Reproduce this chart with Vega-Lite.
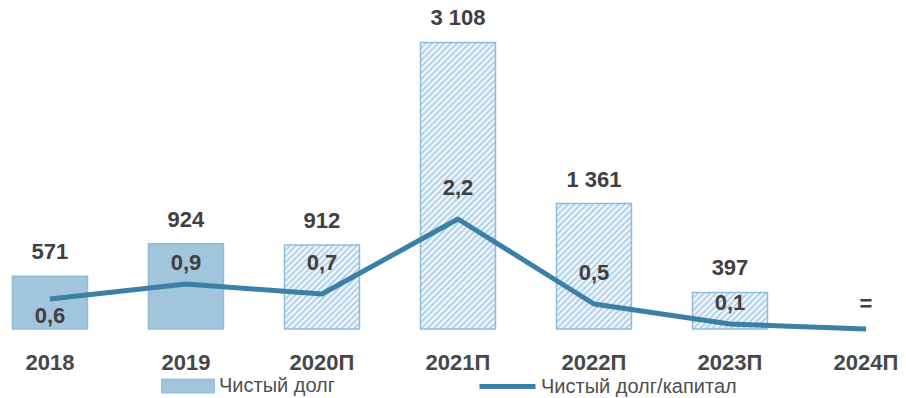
{
  "$schema": "https://vega.github.io/schema/vega-lite/v6.json",
  "width": 906,
  "height": 309,
  "autosize": {"type": "none"},
  "padding": {"left": 0, "right": 0, "top": 20, "bottom": 69},
  "background": "white",
  "config": {
    "view": {"stroke": null},
    "locale": {"number": {"decimal": ",", "thousands": " ", "grouping": [3], "currency": ["", ""]}},
    "font": "Liberation Sans",
    "legend": {"padding": 0, "labelFont": "Liberation Sans", "labelFontSize": 20, "labelColor": "#505050", "labelLimit": 400}
  },
  "data": {
    "values": [
      {"year": "2018", "debt": 571, "ratio": 0.6},
      {"year": "2019", "debt": 924, "ratio": 0.9},
      {"year": "2020П", "debt": 912, "ratio": 0.7},
      {"year": "2021П", "debt": 3108, "ratio": 2.2},
      {"year": "2022П", "debt": 1361, "ratio": 0.5},
      {"year": "2023П", "debt": 397, "ratio": 0.1},
      {"year": "2024П", "debt": null, "ratio": 0.0}
    ]
  },
  "encoding": {
    "x": {
      "field": "year", "type": "ordinal", "sort": null,
      "scale": {"paddingInner": 0.4485, "paddingOuter": 0.055, "align": 0.833},
      "axis": {"title": null, "labelAngle": 0, "domain": false, "ticks": false, "labelPadding": 23,
               "labelFont": "Liberation Sans", "labelFontWeight": "bold", "labelFontSize": 22, "labelColor": "#474747"}
    },
    "y": {"field": "debt", "type": "quantitative", "scale": {"domain": [0, 3351]}, "axis": null}
  },
  "layer": [
    {
      "layer": [
        {
          "transform": [{"filter": "indexof(datum.year, 'П') < 0"}],
          "mark": {"type": "bar", "stroke": "#8fbcdb", "strokeWidth": 1.5},
          "encoding": {
            "fill": {
              "datum": "Чистый долг", "type": "nominal",
              "scale": {"range": ["#a2c5de"]},
              "legend": {"orient": "none", "legendX": 161, "legendY": 339, "title": null,
                         "symbolType": "M-1,-0.264H1V0.264H-1Z", "symbolSize": 2809,
                         "symbolStrokeColor": "#8fbcdb", "symbolStrokeWidth": 1, "labelOffset": 4}
            }
          }
        },
        {
          "transform": [{"filter": "datum.year === '2020П'"}],
          "mark": {"type": "bar", "stroke": "#8fbcdb", "strokeWidth": 1.5,
            "fill": {"gradient": "linear", "x1": 0, "y1": 0, "x2": 0.9397, "y2": 1.0538, "stops": [
              {"offset": 0, "color": "#a9cce6"}, {"offset": 0.0192, "color": "#ffffff"}, {"offset": 0.0385, "color": "#a9cce6"}, {"offset": 0.0577, "color": "#ffffff"},
              {"offset": 0.0769, "color": "#a9cce6"}, {"offset": 0.0962, "color": "#ffffff"}, {"offset": 0.1154, "color": "#a9cce6"}, {"offset": 0.1346, "color": "#ffffff"},
              {"offset": 0.1538, "color": "#a9cce6"}, {"offset": 0.1731, "color": "#ffffff"}, {"offset": 0.1923, "color": "#a9cce6"}, {"offset": 0.2115, "color": "#ffffff"},
              {"offset": 0.2308, "color": "#a9cce6"}, {"offset": 0.25, "color": "#ffffff"}, {"offset": 0.2692, "color": "#a9cce6"}, {"offset": 0.2885, "color": "#ffffff"},
              {"offset": 0.3077, "color": "#a9cce6"}, {"offset": 0.3269, "color": "#ffffff"}, {"offset": 0.3462, "color": "#a9cce6"}, {"offset": 0.3654, "color": "#ffffff"},
              {"offset": 0.3846, "color": "#a9cce6"}, {"offset": 0.4038, "color": "#ffffff"}, {"offset": 0.4231, "color": "#a9cce6"}, {"offset": 0.4423, "color": "#ffffff"},
              {"offset": 0.4615, "color": "#a9cce6"}, {"offset": 0.4808, "color": "#ffffff"}, {"offset": 0.5, "color": "#a9cce6"}, {"offset": 0.5192, "color": "#ffffff"},
              {"offset": 0.5385, "color": "#a9cce6"}, {"offset": 0.5577, "color": "#ffffff"}, {"offset": 0.5769, "color": "#a9cce6"}, {"offset": 0.5962, "color": "#ffffff"},
              {"offset": 0.6154, "color": "#a9cce6"}, {"offset": 0.6346, "color": "#ffffff"}, {"offset": 0.6538, "color": "#a9cce6"}, {"offset": 0.6731, "color": "#ffffff"},
              {"offset": 0.6923, "color": "#a9cce6"}, {"offset": 0.7115, "color": "#ffffff"}, {"offset": 0.7308, "color": "#a9cce6"}, {"offset": 0.75, "color": "#ffffff"},
              {"offset": 0.7692, "color": "#a9cce6"}, {"offset": 0.7885, "color": "#ffffff"}, {"offset": 0.8077, "color": "#a9cce6"}, {"offset": 0.8269, "color": "#ffffff"},
              {"offset": 0.8462, "color": "#a9cce6"}, {"offset": 0.8654, "color": "#ffffff"}, {"offset": 0.8846, "color": "#a9cce6"}, {"offset": 0.9038, "color": "#ffffff"},
              {"offset": 0.9231, "color": "#a9cce6"}, {"offset": 0.9423, "color": "#ffffff"}, {"offset": 0.9615, "color": "#a9cce6"}, {"offset": 0.9808, "color": "#ffffff"},
              {"offset": 1, "color": "#a9cce6"}
            ]}
          }
        },
        {
          "transform": [{"filter": "datum.year === '2021П'"}],
          "mark": {"type": "bar", "stroke": "#8fbcdb", "strokeWidth": 1.5,
            "fill": {"gradient": "linear", "x1": 0, "y1": 0, "x2": 0.3090, "y2": 1.1808, "stops": [
              {"offset": 0, "color": "#a9cce6"}, {"offset": 0.0086, "color": "#ffffff"}, {"offset": 0.0172, "color": "#a9cce6"}, {"offset": 0.0259, "color": "#ffffff"},
              {"offset": 0.0345, "color": "#a9cce6"}, {"offset": 0.0431, "color": "#ffffff"}, {"offset": 0.0517, "color": "#a9cce6"}, {"offset": 0.0603, "color": "#ffffff"},
              {"offset": 0.0690, "color": "#a9cce6"}, {"offset": 0.0776, "color": "#ffffff"}, {"offset": 0.0862, "color": "#a9cce6"}, {"offset": 0.0948, "color": "#ffffff"},
              {"offset": 0.1034, "color": "#a9cce6"}, {"offset": 0.1121, "color": "#ffffff"}, {"offset": 0.1207, "color": "#a9cce6"}, {"offset": 0.1293, "color": "#ffffff"},
              {"offset": 0.1379, "color": "#a9cce6"}, {"offset": 0.1466, "color": "#ffffff"}, {"offset": 0.1552, "color": "#a9cce6"}, {"offset": 0.1638, "color": "#ffffff"},
              {"offset": 0.1724, "color": "#a9cce6"}, {"offset": 0.1810, "color": "#ffffff"}, {"offset": 0.1897, "color": "#a9cce6"}, {"offset": 0.1983, "color": "#ffffff"},
              {"offset": 0.2069, "color": "#a9cce6"}, {"offset": 0.2155, "color": "#ffffff"}, {"offset": 0.2241, "color": "#a9cce6"}, {"offset": 0.2328, "color": "#ffffff"},
              {"offset": 0.2414, "color": "#a9cce6"}, {"offset": 0.25, "color": "#ffffff"}, {"offset": 0.2586, "color": "#a9cce6"}, {"offset": 0.2672, "color": "#ffffff"},
              {"offset": 0.2759, "color": "#a9cce6"}, {"offset": 0.2845, "color": "#ffffff"}, {"offset": 0.2931, "color": "#a9cce6"}, {"offset": 0.3017, "color": "#ffffff"},
              {"offset": 0.3103, "color": "#a9cce6"}, {"offset": 0.3190, "color": "#ffffff"}, {"offset": 0.3276, "color": "#a9cce6"}, {"offset": 0.3362, "color": "#ffffff"},
              {"offset": 0.3448, "color": "#a9cce6"}, {"offset": 0.3534, "color": "#ffffff"}, {"offset": 0.3621, "color": "#a9cce6"}, {"offset": 0.3707, "color": "#ffffff"},
              {"offset": 0.3793, "color": "#a9cce6"}, {"offset": 0.3879, "color": "#ffffff"}, {"offset": 0.3966, "color": "#a9cce6"}, {"offset": 0.4052, "color": "#ffffff"},
              {"offset": 0.4138, "color": "#a9cce6"}, {"offset": 0.4224, "color": "#ffffff"}, {"offset": 0.4310, "color": "#a9cce6"}, {"offset": 0.4397, "color": "#ffffff"},
              {"offset": 0.4483, "color": "#a9cce6"}, {"offset": 0.4569, "color": "#ffffff"}, {"offset": 0.4655, "color": "#a9cce6"}, {"offset": 0.4741, "color": "#ffffff"},
              {"offset": 0.4828, "color": "#a9cce6"}, {"offset": 0.4914, "color": "#ffffff"}, {"offset": 0.5, "color": "#a9cce6"}, {"offset": 0.5086, "color": "#ffffff"},
              {"offset": 0.5172, "color": "#a9cce6"}, {"offset": 0.5259, "color": "#ffffff"}, {"offset": 0.5345, "color": "#a9cce6"}, {"offset": 0.5431, "color": "#ffffff"},
              {"offset": 0.5517, "color": "#a9cce6"}, {"offset": 0.5603, "color": "#ffffff"}, {"offset": 0.5690, "color": "#a9cce6"}, {"offset": 0.5776, "color": "#ffffff"},
              {"offset": 0.5862, "color": "#a9cce6"}, {"offset": 0.5948, "color": "#ffffff"}, {"offset": 0.6034, "color": "#a9cce6"}, {"offset": 0.6121, "color": "#ffffff"},
              {"offset": 0.6207, "color": "#a9cce6"}, {"offset": 0.6293, "color": "#ffffff"}, {"offset": 0.6379, "color": "#a9cce6"}, {"offset": 0.6466, "color": "#ffffff"},
              {"offset": 0.6552, "color": "#a9cce6"}, {"offset": 0.6638, "color": "#ffffff"}, {"offset": 0.6724, "color": "#a9cce6"}, {"offset": 0.6810, "color": "#ffffff"},
              {"offset": 0.6897, "color": "#a9cce6"}, {"offset": 0.6983, "color": "#ffffff"}, {"offset": 0.7069, "color": "#a9cce6"}, {"offset": 0.7155, "color": "#ffffff"},
              {"offset": 0.7241, "color": "#a9cce6"}, {"offset": 0.7328, "color": "#ffffff"}, {"offset": 0.7414, "color": "#a9cce6"}, {"offset": 0.75, "color": "#ffffff"},
              {"offset": 0.7586, "color": "#a9cce6"}, {"offset": 0.7672, "color": "#ffffff"}, {"offset": 0.7759, "color": "#a9cce6"}, {"offset": 0.7845, "color": "#ffffff"},
              {"offset": 0.7931, "color": "#a9cce6"}, {"offset": 0.8017, "color": "#ffffff"}, {"offset": 0.8103, "color": "#a9cce6"}, {"offset": 0.8190, "color": "#ffffff"},
              {"offset": 0.8276, "color": "#a9cce6"}, {"offset": 0.8362, "color": "#ffffff"}, {"offset": 0.8448, "color": "#a9cce6"}, {"offset": 0.8534, "color": "#ffffff"},
              {"offset": 0.8621, "color": "#a9cce6"}, {"offset": 0.8707, "color": "#ffffff"}, {"offset": 0.8793, "color": "#a9cce6"}, {"offset": 0.8879, "color": "#ffffff"},
              {"offset": 0.8966, "color": "#a9cce6"}, {"offset": 0.9052, "color": "#ffffff"}, {"offset": 0.9138, "color": "#a9cce6"}, {"offset": 0.9224, "color": "#ffffff"},
              {"offset": 0.9310, "color": "#a9cce6"}, {"offset": 0.9397, "color": "#ffffff"}, {"offset": 0.9483, "color": "#a9cce6"}, {"offset": 0.9569, "color": "#ffffff"},
              {"offset": 0.9655, "color": "#a9cce6"}, {"offset": 0.9741, "color": "#ffffff"}, {"offset": 0.9828, "color": "#a9cce6"}, {"offset": 0.9914, "color": "#ffffff"},
              {"offset": 1, "color": "#a9cce6"}
            ]}
          }
        },
        {
          "transform": [{"filter": "datum.year === '2022П'"}],
          "mark": {"type": "bar", "stroke": "#8fbcdb", "strokeWidth": 1.5,
            "fill": {"gradient": "linear", "x1": 0, "y1": 0, "x2": 0.7035, "y2": 1.1772, "stops": [
              {"offset": 0, "color": "#a9cce6"}, {"offset": 0.0156, "color": "#ffffff"}, {"offset": 0.0313, "color": "#a9cce6"}, {"offset": 0.0469, "color": "#ffffff"},
              {"offset": 0.0625, "color": "#a9cce6"}, {"offset": 0.0781, "color": "#ffffff"}, {"offset": 0.0938, "color": "#a9cce6"}, {"offset": 0.1094, "color": "#ffffff"},
              {"offset": 0.125, "color": "#a9cce6"}, {"offset": 0.1406, "color": "#ffffff"}, {"offset": 0.1563, "color": "#a9cce6"}, {"offset": 0.1719, "color": "#ffffff"},
              {"offset": 0.1875, "color": "#a9cce6"}, {"offset": 0.2031, "color": "#ffffff"}, {"offset": 0.2188, "color": "#a9cce6"}, {"offset": 0.2344, "color": "#ffffff"},
              {"offset": 0.25, "color": "#a9cce6"}, {"offset": 0.2656, "color": "#ffffff"}, {"offset": 0.2813, "color": "#a9cce6"}, {"offset": 0.2969, "color": "#ffffff"},
              {"offset": 0.3125, "color": "#a9cce6"}, {"offset": 0.3281, "color": "#ffffff"}, {"offset": 0.3438, "color": "#a9cce6"}, {"offset": 0.3594, "color": "#ffffff"},
              {"offset": 0.375, "color": "#a9cce6"}, {"offset": 0.3906, "color": "#ffffff"}, {"offset": 0.4063, "color": "#a9cce6"}, {"offset": 0.4219, "color": "#ffffff"},
              {"offset": 0.4375, "color": "#a9cce6"}, {"offset": 0.4531, "color": "#ffffff"}, {"offset": 0.4688, "color": "#a9cce6"}, {"offset": 0.4844, "color": "#ffffff"},
              {"offset": 0.5, "color": "#a9cce6"}, {"offset": 0.5156, "color": "#ffffff"}, {"offset": 0.5313, "color": "#a9cce6"}, {"offset": 0.5469, "color": "#ffffff"},
              {"offset": 0.5625, "color": "#a9cce6"}, {"offset": 0.5781, "color": "#ffffff"}, {"offset": 0.5938, "color": "#a9cce6"}, {"offset": 0.6094, "color": "#ffffff"},
              {"offset": 0.625, "color": "#a9cce6"}, {"offset": 0.6406, "color": "#ffffff"}, {"offset": 0.6563, "color": "#a9cce6"}, {"offset": 0.6719, "color": "#ffffff"},
              {"offset": 0.6875, "color": "#a9cce6"}, {"offset": 0.7031, "color": "#ffffff"}, {"offset": 0.7188, "color": "#a9cce6"}, {"offset": 0.7344, "color": "#ffffff"},
              {"offset": 0.75, "color": "#a9cce6"}, {"offset": 0.7656, "color": "#ffffff"}, {"offset": 0.7813, "color": "#a9cce6"}, {"offset": 0.7969, "color": "#ffffff"},
              {"offset": 0.8125, "color": "#a9cce6"}, {"offset": 0.8281, "color": "#ffffff"}, {"offset": 0.8438, "color": "#a9cce6"}, {"offset": 0.8594, "color": "#ffffff"},
              {"offset": 0.875, "color": "#a9cce6"}, {"offset": 0.8906, "color": "#ffffff"}, {"offset": 0.9063, "color": "#a9cce6"}, {"offset": 0.9219, "color": "#ffffff"},
              {"offset": 0.9375, "color": "#a9cce6"}, {"offset": 0.9531, "color": "#ffffff"}, {"offset": 0.9688, "color": "#a9cce6"}, {"offset": 0.9844, "color": "#ffffff"},
              {"offset": 1, "color": "#a9cce6"}
            ]}
          }
        },
        {
          "transform": [{"filter": "datum.year === '2023П'"}],
          "mark": {"type": "bar", "stroke": "#8fbcdb", "strokeWidth": 1.5,
            "fill": {"gradient": "linear", "x1": 0, "y1": 0, "x2": 1.2018, "y2": 0.5865, "stops": [
              {"offset": 0, "color": "#a9cce6"}, {"offset": 0.0278, "color": "#ffffff"}, {"offset": 0.0556, "color": "#a9cce6"}, {"offset": 0.0833, "color": "#ffffff"},
              {"offset": 0.1111, "color": "#a9cce6"}, {"offset": 0.1389, "color": "#ffffff"}, {"offset": 0.1667, "color": "#a9cce6"}, {"offset": 0.1944, "color": "#ffffff"},
              {"offset": 0.2222, "color": "#a9cce6"}, {"offset": 0.25, "color": "#ffffff"}, {"offset": 0.2778, "color": "#a9cce6"}, {"offset": 0.3056, "color": "#ffffff"},
              {"offset": 0.3333, "color": "#a9cce6"}, {"offset": 0.3611, "color": "#ffffff"}, {"offset": 0.3889, "color": "#a9cce6"}, {"offset": 0.4167, "color": "#ffffff"},
              {"offset": 0.4444, "color": "#a9cce6"}, {"offset": 0.4722, "color": "#ffffff"}, {"offset": 0.5, "color": "#a9cce6"}, {"offset": 0.5278, "color": "#ffffff"},
              {"offset": 0.5556, "color": "#a9cce6"}, {"offset": 0.5833, "color": "#ffffff"}, {"offset": 0.6111, "color": "#a9cce6"}, {"offset": 0.6389, "color": "#ffffff"},
              {"offset": 0.6667, "color": "#a9cce6"}, {"offset": 0.6944, "color": "#ffffff"}, {"offset": 0.7222, "color": "#a9cce6"}, {"offset": 0.75, "color": "#ffffff"},
              {"offset": 0.7778, "color": "#a9cce6"}, {"offset": 0.8056, "color": "#ffffff"}, {"offset": 0.8333, "color": "#a9cce6"}, {"offset": 0.8611, "color": "#ffffff"},
              {"offset": 0.8889, "color": "#a9cce6"}, {"offset": 0.9167, "color": "#ffffff"}, {"offset": 0.9444, "color": "#a9cce6"}, {"offset": 0.9722, "color": "#ffffff"},
              {"offset": 1, "color": "#a9cce6"}
            ]}
          }
        },
        {
          "transform": [{"filter": "datum.debt != null"}],
          "mark": {"type": "text", "baseline": "middle", "dy": -24, "font": "Liberation Sans", "fontWeight": "bold", "fontSize": 22, "color": "#404040"},
          "encoding": {
            "text": {"field": "debt", "type": "quantitative", "format": ",d"}
          }
        }
      ]
    },
    {
      "encoding": {
        "y": {"field": "ratio", "type": "quantitative", "scale": {"domain": [0, 6.18]}, "axis": null}
      },
      "layer": [
        {
          "mark": {"type": "line", "strokeWidth": 5, "interpolate": "linear", "strokeJoin": "round"},
          "encoding": {
            "stroke": {
              "datum": "Чистый долг/капитал", "type": "nominal",
              "scale": {"range": ["#3c7fa7"]},
              "legend": {"orient": "none", "legendX": 477, "legendY": 336, "title": null,
                         "symbolType": "stroke", "symbolSize": 3136, "symbolStrokeWidth": 5, "labelOffset": 3}
            }
          }
        },
        {
          "transform": [{"filter": "datum.year === '2018'"}],
          "mark": {"type": "text", "baseline": "middle", "dy": 17, "font": "Liberation Sans", "fontWeight": "bold", "fontSize": 22, "color": "#404040"},
          "encoding": {
            "text": {"field": "ratio", "type": "quantitative", "format": ".1f"}
          }
        },
        {
          "transform": [{"filter": "datum.year === '2019' || datum.year === '2023П'"}],
          "mark": {"type": "text", "baseline": "middle", "dy": -21, "font": "Liberation Sans", "fontWeight": "bold", "fontSize": 22, "color": "#404040"},
          "encoding": {
            "text": {"field": "ratio", "type": "quantitative", "format": ".1f"}
          }
        },
        {
          "transform": [{"filter": "datum.year === '2020П' || datum.year === '2021П' || datum.year === '2022П'"}],
          "mark": {"type": "text", "baseline": "middle", "dy": -31, "font": "Liberation Sans", "fontWeight": "bold", "fontSize": 22, "color": "#404040"},
          "encoding": {
            "text": {"field": "ratio", "type": "quantitative", "format": ".1f"}
          }
        },
        {
          "transform": [{"filter": "datum.year === '2024П'"}],
          "mark": {"type": "text", "baseline": "middle", "dy": -25, "font": "Liberation Sans", "fontWeight": "bold", "fontSize": 22, "color": "#404040", "text": "="},
          "encoding": {}
        }
      ]
    }
  ],
  "resolve": {"scale": {"y": "independent"}}
}
